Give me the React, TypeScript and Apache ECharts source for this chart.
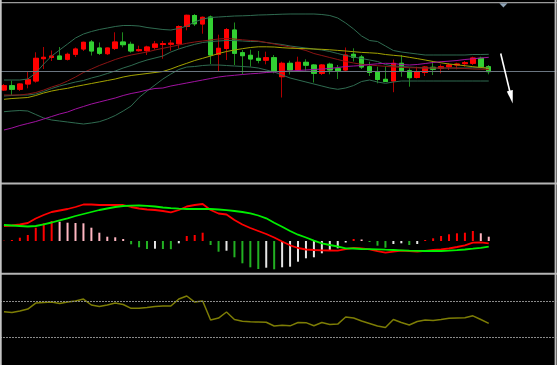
import React, { useEffect, useRef } from "react";
import * as echarts from "echarts";

// 70 bar slots on the time axis (62 bars drawn, the rest is the empty right margin)
const slots: string[] = Array.from({ length: 70 }, (_, i) => String(i + 1));

// Price bars
const open = [110, 114.3, 110.7, 116, 119, 141.3, 142.5, 144, 140.7, 145.7, 151, 158, 152, 146.3, 151.7, 158, 155.7, 149.3, 149.3, 152.7, 155.5, 155.8, 156.2, 173.5, 184.5, 176, 183, 145.7, 151.5, 170, 147.3, 144.7, 141.7, 139.8, 142.3, 123.3, 136.7, 130, 137.7, 135, 126.7, 135.8, 131.3, 130, 145.7, 143, 133.3, 128, 120.7, 119, 136.7, 129.2, 122.5, 127.5, 132.7, 131.7, 133.3, 135, 136.3, 136.7, 141.7, 133.3];
const close = [114.3, 110.7, 116, 120.3, 141.7, 142.7, 144, 140.7, 145.7, 151, 157.7, 149, 146.7, 152, 158, 155.3, 149, 150.3, 153, 156, 156.3, 156.8, 173.5, 184.7, 176.2, 182.7, 145, 151.7, 170.5, 146.7, 144.3, 141, 139.7, 142.3, 129.2, 136.7, 130, 137.7, 134.8, 126.7, 135, 130, 129.3, 145, 142.7, 133, 127.5, 120.5, 118.5, 136.7, 129.2, 122.3, 128, 133, 130.7, 133.3, 135, 136, 137.3, 142, 133.3, 128.3];
const low = [109, 105, 109, 111.7, 117.3, 131, 139, 140, 139.5, 143, 149, 144.5, 145, 145, 150, 152.7, 147.3, 148.3, 145, 150.3, 141.3, 149.3, 151.3, 169.7, 174, 166.3, 136, 128.3, 140, 135, 125.8, 133.3, 136.7, 135.7, 126.7, 102.5, 125.5, 128, 129.3, 117.5, 125, 125.7, 121, 129, 138.5, 131, 124, 116.7, 118.3, 107.8, 123.3, 113.3, 121.5, 124, 125, 126.7, 130, 130.7, 133.3, 135, 131.7, 125.7];
const high = [116, 119.3, 116.7, 129, 147.7, 153, 149.5, 153, 147.3, 152.5, 158.3, 160, 157.5, 152.5, 167.7, 167.7, 158.3, 154.3, 154.3, 159, 159, 160, 174.7, 185.3, 186, 183.5, 184.5, 165.3, 172, 177.5, 150, 150.3, 149, 148.3, 145, 138.3, 139.3, 143.3, 140.7, 136, 136, 137.3, 135, 152.5, 151.7, 145, 138.3, 133.3, 134, 140.5, 145, 131.7, 133.3, 134, 138.3, 135.7, 136.7, 137.3, 139, 143.3, 143.3, 135];

// Bollinger bands
const bbUpper = [120, 120, 120, 121, 127, 136, 144, 150, 156, 162, 166, 168.5, 170.5, 172, 173.5, 174.5, 174.5, 174, 172.5, 171.5, 170.5, 170, 171.5, 174, 178, 181, 182.5, 183, 183.5, 184, 184.2, 184.5, 185, 185.2, 185.5, 185.8, 186, 186, 186, 186, 185.5, 184.5, 182, 177, 171, 164, 159.5, 158.5, 154, 149.5, 148, 147, 146, 145, 145, 145, 145, 145, 145, 145.5, 145.5, 145.7];
const bbMid = [104, 104.5, 105, 105, 106, 108.5, 111.5, 114, 116, 118, 119.5, 122, 124, 126.5, 129, 132, 134.5, 137.5, 140, 142, 144, 148, 151, 153.5, 155.7, 157.5, 158.5, 159, 159.5, 159.5, 159, 158.5, 158.5, 157.5, 156.5, 155.5, 154, 153, 152, 151, 150, 148.5, 146.5, 144.5, 143, 141.5, 140, 138.5, 135.5, 134, 133.5, 133, 132.5, 132, 132, 132, 132, 132, 132, 132.2, 132.2, 132.3];
const bbLower = [88.3, 89, 89.5, 89, 85.5, 82, 80, 79, 78, 77, 76, 77, 78.3, 81, 84.5, 89, 94, 102.5, 109, 115, 121, 126, 130.5, 133, 133.5, 134.5, 135, 135, 134.5, 134, 133.5, 133, 132, 130, 128, 125, 122, 120, 118, 116, 114, 112, 110.7, 112, 114.5, 118.5, 120, 118, 116.7, 118, 119, 119, 119, 119, 119, 119, 119, 119, 119, 119, 119, 119];

// Moving averages
const maRed = [105, 105, 105, 106, 107.5, 110, 113, 115.5, 119, 123, 127.5, 131, 134.5, 137.5, 140.5, 143, 145, 146.5, 148, 150, 151.7, 153.3, 155, 156.7, 158, 159, 160, 161, 161.5, 161, 160.2, 159.5, 159, 157.5, 156, 154.5, 153, 151.5, 149.5, 146.5, 144.5, 142.5, 140.5, 138.5, 137, 135.7, 135, 134.3, 133.7, 133, 132.7, 132.3, 132.2, 132, 132, 132, 132, 131.7, 131.5, 131, 130.8, 130.5];
const maYellow = [100.7, 101.5, 102, 102.5, 104.5, 107, 109, 110.5, 111.7, 113.5, 115, 116.5, 118, 119.5, 121, 123, 124.5, 125.5, 126.5, 127.5, 128.5, 131, 134, 136.7, 139.5, 141.7, 144, 146.5, 148.5, 150, 151.3, 152.5, 153.2, 153.2, 153, 152.3, 151.8, 151.6, 151.3, 151, 150.7, 150.2, 149.6, 149, 148.3, 147.6, 147.2, 146.7, 145.5, 144.7, 144, 142.7, 141.4, 140, 138.5, 137.2, 136, 135.2, 134.3, 133.3, 132.5, 131.7];
const maPurple = [70, 72, 74.5, 76.5, 78.5, 81, 83.5, 86, 88, 91, 93.5, 96, 98, 100, 102, 104.5, 106.5, 108, 110, 111.5, 112, 114, 115.5, 117, 118.5, 120, 121.5, 123, 124, 124.7, 125.5, 126.2, 126.7, 127.5, 128, 128.5, 129, 129.5, 130, 130.5, 131, 131.5, 132.5, 133.5, 134, 134.5, 135.5, 136.2, 136.7, 136.5, 135.5, 135, 135.5, 136.5, 137.5, 138.3, 138.8, 139.5, 140.5, 141.2, 142, 142.7];

// MACD panel
const macdLine = [15, 15.5, 16.5, 18, 22.5, 26, 29, 30.5, 32, 34, 36.5, 36.5, 36, 36, 36, 36, 34, 32.5, 31.5, 31, 30, 28.7, 31, 34.5, 36, 37, 31, 27.5, 26.5, 21, 16.5, 13, 10, 7, 3.5, -0.5, -4.3, -7, -8.5, -9, -9.3, -9.5, -9.7, -8.2, -6.8, -7.3, -8.3, -10.2, -11.7, -10.7, -9.7, -10.2, -10.7, -9.8, -9, -8.3, -7.5, -6, -4.3, -1.7, -1.3, -2.3];
const signalLine = [16, 15.5, 15, 14.5, 15, 16.7, 18.5, 20.7, 22.7, 25, 27, 29, 31, 32.5, 34, 35, 35.3, 35.5, 35.2, 34.5, 33.5, 32.8, 32.3, 32, 32, 32, 32, 31.5, 30.8, 30, 29, 27.7, 25.5, 22.7, 18.3, 14.3, 10, 6.3, 3.5, 0.3, -2.3, -4, -5.5, -7.3, -7.5, -8, -8.1, -8.3, -8.7, -9, -9.3, -9.6, -9.8, -10, -10, -10, -9.7, -9.2, -8.5, -7.7, -6.8, -5.7];
const macdHist = [0.3, 1, 3.3, 6, 13.3, 17.7, 20, 19.3, 18.3, 18, 17.7, 13.3, 8.3, 4.3, 3.7, 2, -3.3, -6.3, -8, -7.7, -8, -8.2, -2.3, 5, 6, 8.3, -4, -10.7, -9.7, -16.3, -22.3, -26.3, -28, -26.7, -28.3, -26.3, -25.7, -20.7, -17.3, -16.3, -12.3, -10, -7.3, -1.5, 2, 1.5, -1, -4.7, -6.7, -3, -2.3, -4, -3, 1, 2.7, 5, 6.7, 7.7, 8.3, 10, 7.7, 4.3];

// RSI panel
const rsi = [58.5, 57.6, 59.3, 61.5, 68.3, 68.9, 69.4, 67.7, 69.4, 70.6, 72.8, 66.1, 64.4, 66.1, 68.3, 66.6, 62.3, 62.3, 63.2, 64.4, 64.9, 64.9, 72.8, 76.2, 69.4, 70.6, 49.2, 51.4, 58.2, 49.7, 47.7, 47.2, 46.9, 46.6, 42.4, 43.2, 42.6, 46.3, 46.2, 42.7, 46.3, 44.1, 44.6, 52.5, 51.4, 48.0, 45.2, 42.4, 40.7, 49.7, 46.3, 43.5, 47.5, 49.2, 48.6, 49.7, 51.1, 51.4, 51.7, 53.9, 49.7, 45.4];
const rsiLevels = [70, 30];

export default function App() {
  const ref = useRef<HTMLDivElement>(null);

  useEffect(() => {
    document.body.style.margin = "0";
    document.body.style.background = "#000";
    const chart = echarts.init(ref.current as HTMLDivElement, null, { renderer: "svg" });

    const wickData = open.map((o, i) => [o, close[i], low[i], high[i]]);
    const bodyData = open.map((o, i) => [o, close[i], Math.min(o, close[i]), Math.max(o, close[i])]);

    const histColor = (p: any) => {
      const i = p.dataIndex;
      const v = macdHist[i];
      const prev = i > 0 ? macdHist[i - 1] : 0;
      if (v >= 0) return v > prev ? "#ff0000" : "#ffb6c1";
      return v < prev ? "#22b022" : "#e6e6e6";
    };

    const gridL = -3.7;
    const gridW = 560;
    const lineBase = {
      type: "line" as const,
      symbol: "none",
      showSymbol: false,
      silent: true,
      smooth: false,
    };

    const option: any = {
      animation: false,
      backgroundColor: "#000000",
      grid: [
        { left: gridL, width: gridW, top: 3, height: 180 },
        { left: gridL, width: gridW, top: 185, height: 87 },
        { left: gridL, width: gridW, top: 274.9, height: 88.75 },
      ],
      xAxis: [0, 1, 2].map((g) => ({
        type: "category",
        gridIndex: g,
        data: slots,
        boundaryGap: true,
        show: false,
      })),
      yAxis: [
        { type: "value", gridIndex: 0, min: 17, max: 197, show: false, splitLine: { show: false } },
        { type: "value", gridIndex: 1, min: -31, max: 56, show: false, splitLine: { show: false } },
        { type: "value", gridIndex: 2, min: 0, max: 100, show: false, splitLine: { show: false } },
      ],
      series: [
        {
          ...lineBase,
          name: "BB upper",
          data: bbUpper,
          lineStyle: { color: "#2f6b50", width: 1 },
          markLine: {
            silent: true,
            symbol: "none",
            label: { show: false },
            lineStyle: { color: "#6a7580", width: 1, type: "solid" },
            data: [{ yAxis: close[close.length - 1] }],
          },
        },
        { ...lineBase, name: "BB mid", data: bbMid, lineStyle: { color: "#2f6b50", width: 1 } },
        { ...lineBase, name: "BB lower", data: bbLower, lineStyle: { color: "#2f6b50", width: 1 } },
        { ...lineBase, name: "MA red", data: maRed, lineStyle: { color: "#8a1414", width: 1 } },
        { ...lineBase, name: "MA yellow", data: maYellow, lineStyle: { color: "#a3a300", width: 1 } },
        { ...lineBase, name: "MA purple", data: maPurple, lineStyle: { color: "#a012a0", width: 1 } },
        {
          type: "candlestick",
          name: "wicks",
          silent: true,
          data: wickData,
          barWidth: 5,
          itemStyle: { color: "#b00000", color0: "#1e8a1e", borderColor: "#b00000", borderColor0: "#1e8a1e", borderWidth: 1 },
        },
        {
          type: "candlestick",
          name: "bodies",
          silent: true,
          data: bodyData,
          barWidth: 5,
          itemStyle: { color: "#ff0000", color0: "#32d032", borderColor: "#ff0000", borderColor0: "#32d032", borderWidth: 1 },
        },
        {
          type: "bar",
          name: "histogram",
          xAxisIndex: 1,
          yAxisIndex: 1,
          silent: true,
          data: macdHist,
          barWidth: 2,
          itemStyle: { color: histColor },
        },
        { ...lineBase, name: "MACD", xAxisIndex: 1, yAxisIndex: 1, data: macdLine, lineStyle: { color: "#ff0000", width: 1.8 } },
        { ...lineBase, name: "Signal", xAxisIndex: 1, yAxisIndex: 1, data: signalLine, lineStyle: { color: "#00ee00", width: 1.8 } },
        {
          ...lineBase,
          name: "RSI",
          xAxisIndex: 2,
          yAxisIndex: 2,
          data: rsi,
          lineStyle: { color: "#7d7d05", width: 1.5 },
          markLine: {
            silent: true,
            symbol: "none",
            label: { show: false },
            lineStyle: { color: "#8a8a8a", width: 1, type: [2, 1] },
            data: rsiLevels.map((v) => ({ yAxis: v })),
          },
        },
      ],
      graphic: [
        { type: "rect", z: 100, silent: true, shape: { x: 0, y: 2, width: 557, height: 1.3 }, style: { fill: "#9a9a9a" } },
        { type: "rect", z: 100, silent: true, shape: { x: 0, y: 182.4, width: 557, height: 2 }, style: { fill: "#b4b4b4" } },
        { type: "rect", z: 100, silent: true, shape: { x: 0, y: 272.8, width: 557, height: 2 }, style: { fill: "#b4b4b4" } },
        { type: "rect", z: 101, silent: true, shape: { x: 0, y: 0, width: 1.7, height: 365 }, style: { fill: "#c4c4c4" } },
        { type: "rect", z: 101, silent: true, shape: { x: 554.6, y: 0, width: 2, height: 365 }, style: { fill: "#bdbdbd" } },
        {
          type: "polygon",
          z: 102,
          silent: true,
          shape: { points: [[499.3, 3.3], [507.5, 3.3], [503.4, 7.6]] },
          style: { fill: "#8fa3b6" },
        },
        {
          type: "line",
          z: 102,
          silent: true,
          shape: { x1: 500.7, y1: 53.5, x2: 510.2, y2: 93 },
          style: { stroke: "#ffffff", lineWidth: 1.6 },
        },
        {
          type: "polygon",
          z: 102,
          silent: true,
          shape: { points: [[512.7, 103.5], [506.8, 91.4], [512.8, 89.9]] },
          style: { fill: "#ffffff" },
        },
      ],
    };

    chart.setOption(option);
    return () => chart.dispose();
  }, []);

  return (
    <div
      ref={ref}
      style={{ position: "absolute", left: 0, top: 0, width: 557, height: 365, background: "#000" }}
    />
  );
}
